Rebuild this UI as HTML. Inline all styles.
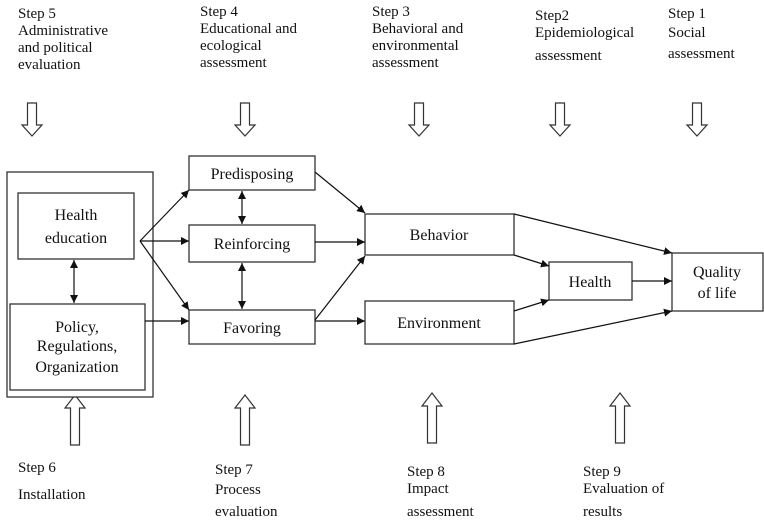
<!DOCTYPE html>
<html><head><meta charset="utf-8"><style>
html,body{margin:0;padding:0;background:#fff;}
svg{display:block;}
text{font-family:"Liberation Serif",serif;fill:#111;}
</style></head><body>
<svg width="764" height="521" viewBox="0 0 764 521" xmlns="http://www.w3.org/2000/svg">
<defs>
<marker id="a" viewBox="0 0 10 10" refX="10" refY="5" markerWidth="8" markerHeight="8" markerUnits="userSpaceOnUse" orient="auto-start-reverse">
<path d="M0,0 L10,5 L0,10 z" fill="#111"/></marker>
<g id="dn"><path d="M-4.5,0 H4.5 V22 H10 L0,33 L-10,22 H-4.5 Z" fill="#fff" stroke="#333" stroke-width="1.2"/></g>
<g id="up"><path d="M-4.5,50 H4.5 V13 H10 L0,0 L-10,13 H-4.5 Z" fill="#fff" stroke="#333" stroke-width="1.2"/></g>
</defs>
<g font-size="15">
<text x="18" y="18">Step 5</text><text x="18" y="35">Administrative</text><text x="18" y="52">and political</text><text x="18" y="69">evaluation</text>
<text x="200" y="16">Step 4</text><text x="200" y="33">Educational and</text><text x="200" y="50">ecological</text><text x="200" y="67">assessment</text>
<text x="372" y="16">Step 3</text><text x="372" y="33">Behavioral and</text><text x="372" y="50">environmental</text><text x="372" y="67">assessment</text>
<text x="535" y="20">Step2</text><text x="535" y="37">Epidemiological</text><text x="535" y="60">assessment</text>
<text x="668" y="18">Step 1</text><text x="668" y="37"> Social</text><text x="668" y="58">assessment</text>
<text x="18" y="472">Step 6</text><text x="18" y="499">Installation</text>
<text x="215" y="474">Step 7</text><text x="215" y="494">Process</text><text x="215" y="516">evaluation</text>
<text x="407" y="476">Step 8</text><text x="407" y="493">Impact</text><text x="407" y="516">assessment</text>
<text x="583" y="476">Step 9</text><text x="583" y="493">Evaluation of</text><text x="583" y="516">results</text>
</g>
<use href="#dn" x="32" y="103"/><use href="#dn" x="245" y="103"/><use href="#dn" x="419" y="103"/><use href="#dn" x="560" y="103"/><use href="#dn" x="697" y="103"/>
<use href="#up" x="75" y="395"/><use href="#up" x="245" y="395"/><use href="#up" x="432" y="393"/><use href="#up" x="620" y="393"/>
<g fill="#fff" stroke="#333" stroke-width="1.3">
<rect x="7" y="172" width="146" height="225"/>
<rect x="18" y="193" width="116" height="66"/>
<rect x="10" y="304" width="135" height="86"/>
<rect x="189" y="156" width="126" height="34"/>
<rect x="189" y="225" width="126" height="37"/>
<rect x="189" y="310" width="126" height="34"/>
<rect x="365" y="214" width="149" height="41"/>
<rect x="365" y="301" width="149" height="43"/>
<rect x="549" y="262" width="83" height="38"/>
<rect x="672" y="253" width="91" height="58"/>
</g>
<g font-size="16" text-anchor="middle">
<text x="76" y="220">Health</text><text x="76" y="243">education</text>
<text x="77" y="332">Policy,</text><text x="77" y="351">Regulations,</text><text x="77" y="372">Organization</text>
<text x="252" y="179">Predisposing</text><text x="252" y="249">Reinforcing</text><text x="252" y="333">Favoring</text>
<text x="439" y="240">Behavior</text><text x="439" y="328">Environment</text>
<text x="590" y="287">Health</text>
<text x="717" y="277">Quality</text><text x="717" y="298">of life</text>
</g>
<g stroke="#111" stroke-width="1.2" fill="none">
<line x1="140" y1="241" x2="189" y2="190" marker-end="url(#a)"/>
<line x1="140" y1="241" x2="189" y2="241" marker-end="url(#a)"/>
<line x1="140" y1="241" x2="189" y2="310" marker-end="url(#a)"/>
<line x1="145" y1="321" x2="189" y2="321" marker-end="url(#a)"/>
<line x1="242" y1="191" x2="242" y2="224" marker-start="url(#a)" marker-end="url(#a)"/>
<line x1="242" y1="263" x2="242" y2="309" marker-start="url(#a)" marker-end="url(#a)"/>
<line x1="74" y1="260" x2="74" y2="303" marker-start="url(#a)" marker-end="url(#a)"/>
<line x1="315" y1="172" x2="365" y2="213" marker-end="url(#a)"/>
<line x1="315" y1="242" x2="365" y2="242" marker-end="url(#a)"/>
<line x1="315" y1="320" x2="365" y2="256" marker-end="url(#a)"/>
<line x1="315" y1="321" x2="365" y2="321" marker-end="url(#a)"/>
<line x1="514" y1="214" x2="672" y2="253" marker-end="url(#a)"/>
<line x1="514" y1="255" x2="549" y2="266" marker-end="url(#a)"/>
<line x1="514" y1="311" x2="549" y2="300" marker-end="url(#a)"/>
<line x1="514" y1="344" x2="672" y2="311" marker-end="url(#a)"/>
<line x1="632" y1="281" x2="672" y2="281" marker-end="url(#a)"/>
</g>
</svg>
</body></html>
